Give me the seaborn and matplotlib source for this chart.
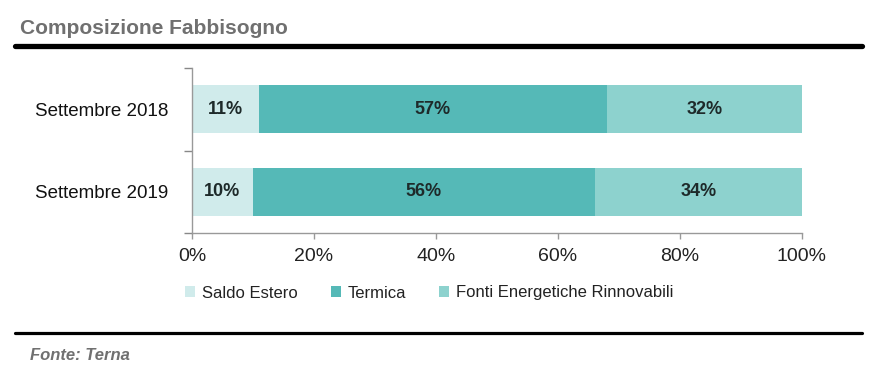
import matplotlib
matplotlib.use("Agg")
import matplotlib.pyplot as plt
import seaborn as sns
import pandas as pd
import numpy as np
from matplotlib.patches import Patch
from matplotlib.lines import Line2D

categories = ["Settembre 2018", "Settembre 2019"]
series_names = ["Saldo Estero", "Termica", "Fonti Energetiche Rinnovabili"]
saldo_estero = [11, 10]
termica = [57, 56]
fonti_rinnovabili = [32, 34]
xtick_labels = ["0%", "20%", "40%", "60%", "80%", "100%"]
colors = ["#D0EBEB", "#55B9B7", "#8DD2CE"]

sns.set_theme(style="white")
plt.rcParams["font.family"] = ["Liberation Sans", "DejaVu Sans"]

df = pd.DataFrame({
    "cat": categories,
    "s1": saldo_estero,
    "s2": termica,
    "s3": fonti_rinnovabili,
})
df["c1"] = df["s1"]
df["c2"] = df["s1"] + df["s2"]
df["c3"] = df["s1"] + df["s2"] + df["s3"]

fig = plt.figure(figsize=(8.7, 3.66), dpi=100)
ax = fig.add_axes([192/870, 1-233/366, 610/870, 165/366])

bw = 48/82
for col, c in zip(["c3", "c2", "c1"], colors[::-1]):
    sns.barplot(data=df, x=col, y="cat", color=c, width=bw, ax=ax,
                orient="h", saturation=1, edgecolor="none", linewidth=0)

for i in range(len(categories)):
    vals = [df.loc[i, "s1"], df.loc[i, "s2"], df.loc[i, "s3"]]
    start = 0
    for v in vals:
        ax.text(start + v/2, i, f"{v}%", ha="center", va="center",
                fontsize=13, fontweight="bold", color="#1E2A2A")
        start += v

ax.set_xlim(0, 100)
ax.set_ylim(1.5, -0.5)
ax.set_xlabel("")
ax.set_ylabel("")
ax.set_xticks(np.arange(0, 101, 20))
ax.set_xticklabels(xtick_labels, fontsize=14, color="#222222")
ax.tick_params(axis="x", length=4, width=1, color="#999999", bottom=True, pad=7)
ax.set_yticks(range(len(categories)))
ax.set_yticklabels(categories, fontsize=13.5, color="#111111")
ax.tick_params(axis="y", which="major", length=0, pad=17)
ax.set_yticks([-0.5, 0.5, 1.5], minor=True)
ax.tick_params(axis="y", which="minor", length=6, width=1, color="#888888", left=True)
for s in ["top", "right"]:
    ax.spines[s].set_visible(False)
for s in ["left", "bottom"]:
    ax.spines[s].set_color("#999999")
    ax.spines[s].set_linewidth(1)

handles = [Patch(facecolor=c, edgecolor="none") for c in colors]
fig.legend(handles, series_names, loc="center left", bbox_to_anchor=(170/870, 1-293/366),
           ncol=3, frameon=False, fontsize=12, handlelength=0.6, handleheight=0.6,
           handletextpad=0.4, columnspacing=2.0, labelcolor="#222222")

fig.text(20/870, 1-28/366, "Composizione Fabbisogno", fontsize=15, fontweight="bold",
         color="#707070", va="center", ha="left")
fig.add_artist(Line2D([15/870, 862/870], [1-46/366, 1-46/366], color="black", linewidth=3.8,
                      transform=fig.transFigure))
fig.add_artist(Line2D([15/870, 862/870], [1-333/366, 1-333/366], color="black", linewidth=2.3,
                      transform=fig.transFigure))
fig.text(30/870, 1-355/366, "Fonte: Terna", fontsize=12, fontweight="bold", style="italic",
         color="#707070", va="center", ha="left")

fig.savefig("out.png", dpi=100)
